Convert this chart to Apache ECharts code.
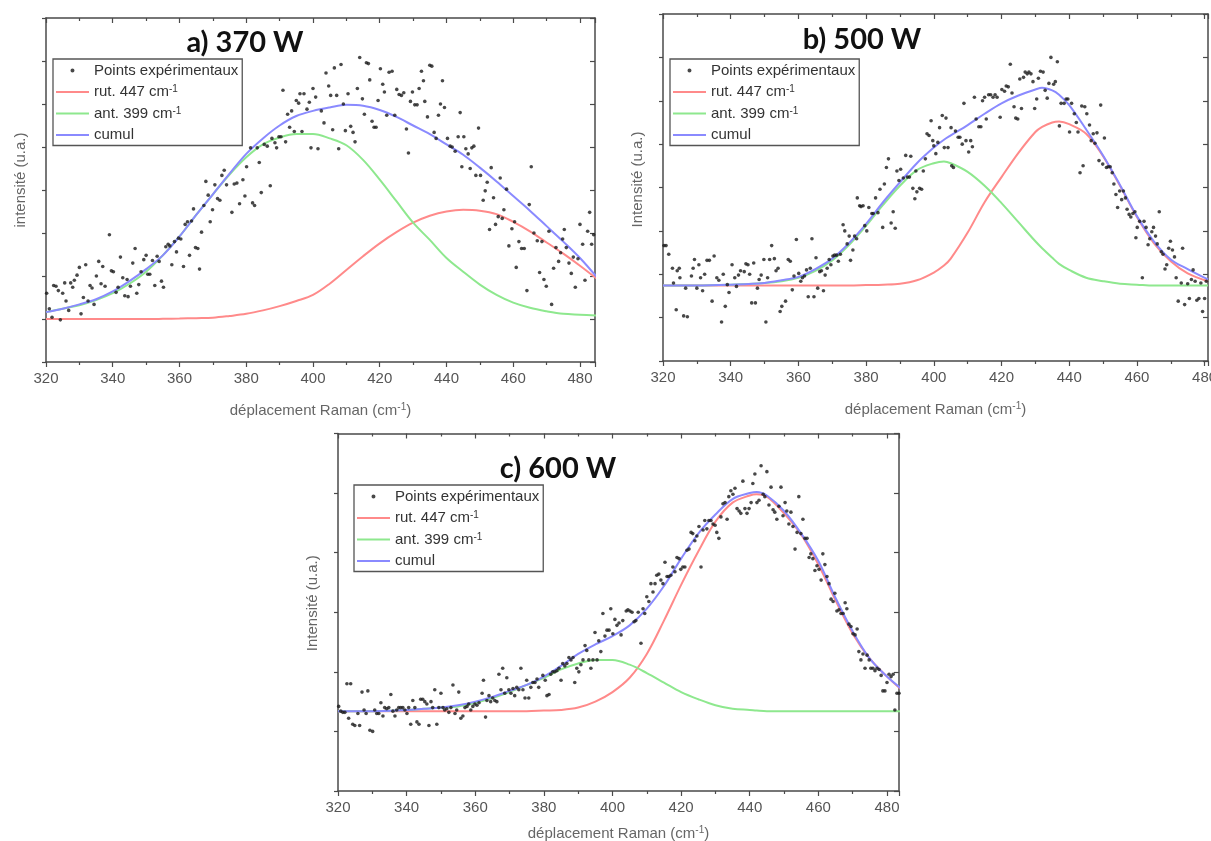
<!DOCTYPE html>
<html><head><meta charset="utf-8">
<script src="https://cdn.jsdelivr.net/npm/echarts@6/dist/echarts.min.js"></script>
<style>html,body{margin:0;padding:0;background:#fff}#c{width:1211px;height:841px}</style>
</head><body><div id="c"></div>
<script>
// ---------- labels ----------
const SERIES_NAMES = ['Points expérimentaux', 'rut. 447 cm-1', 'ant. 399 cm-1', 'cumul'];
const TITLES = ['a) 370 W', 'b) 500 W', 'c) 600 W'];
const Y_NAMES = ['intensité (u.a.)', 'Intensité (u.a.)', 'Intensité (u.a.)'];
const X_NAME = 'déplacement Raman (cm-1)';
const X_MIN = 320;
const X_MAX = [484.5, 481, 483.5];
const Y_MIN = -0.5;
const Y_MAX = [3.5, 3.5, 2.5];

// ---------- panel a) 370 W ----------
const curveXA = [320,325,330,335,340,345,350,355,360,365,370,375,380,385,390,395,400,405,410,415,420,425,430,435,440,445,450,455,460,465,470,475,480,485];
const rutA   = [0,0,0,0,0,0,0,0.002,0.005,0.01,0.015,0.035,0.06,0.10,0.15,0.21,0.28,0.41,0.57,0.73,0.88,1.01,1.12,1.20,1.25,1.27,1.26,1.22,1.13,1.02,0.89,0.76,0.62,0.47];
const antA   = [0.08,0.12,0.16,0.22,0.30,0.41,0.55,0.74,0.96,1.21,1.45,1.68,1.88,2.03,2.11,2.15,2.15,2.10,2.02,1.85,1.62,1.37,1.12,0.92,0.71,0.55,0.40,0.28,0.19,0.13,0.09,0.06,0.05,0.04];
const cumulA = [0.08,0.12,0.17,0.23,0.32,0.44,0.58,0.74,0.96,1.21,1.45,1.69,1.92,2.10,2.25,2.36,2.42,2.46,2.49,2.48,2.43,2.35,2.25,2.15,2.03,1.91,1.76,1.60,1.43,1.26,1.08,0.90,0.71,0.49];
const pointsA = [[320.2,0.30],[321,0.12],[321.8,0.02],[322.3,0.39],[323,0.38],[323.7,0.33],[324.3,-0.01],[325,0.30],[325.6,0.42],[326,0.21],[326.8,0.10],[327.4,0.42],[328,0.37],[328.5,0.45],[329.3,0.51],[330,0.60],[330.5,0.06],[331.2,0.25],[331.9,0.63],[332.6,0.21],[333.2,0.39],[333.8,0.36],[334.4,0.17],[335.1,0.50],[335.8,0.67],[336.5,0.41],[337,0.61],[337.7,0.38],[339,0.98],[339.6,0.56],[340.2,0.55],[341,0.31],[341.6,0.37],[342.3,0.72],[343,0.48],[343.6,0.27],[344.3,0.46],[344.6,0.26],[345.3,0.38],[346,0.65],[346.7,0.82],[347.2,0.30],[347.8,0.40],[348.5,0.55],[349.3,0.69],[350,0.74],[350.5,0.52],[351.1,0.52],[351.9,0.68],[352.6,0.39],[353.3,0.73],[353.9,0.67],[354.6,0.44],[355.2,0.37],[355.9,0.84],[356.6,0.87],[357.1,0.85],[357.7,0.63],[358.5,0.90],[359.1,0.78],[359.7,0.94],[360.4,0.93],[361.2,0.61],[361.7,1.10],[362.4,1.13],[363,0.74],[363.6,1.14],[364.2,1.28],[364.8,0.83],[365.5,0.82],[366,0.58],[366.6,1.01],[367.3,1.32],[367.9,1.60],[368.6,1.44],[369.2,1.13],[369.9,1.27],[370.6,1.56],[371.4,1.40],[372.1,1.38],[372.7,1.67],[373.4,1.73],[374.1,1.56],[375.7,1.24],[376.4,1.57],[377.2,1.58],[378,1.34],[379,1.62],[379.6,1.43],[380.1,1.77],[381.3,1.99],[381.9,1.35],[382.5,1.32],[383.3,1.99],[383.9,1.82],[384.5,1.47],[385.4,2.03],[386.3,2.01],[387.2,1.55],[387.7,2.10],[388.6,2.05],[389.1,1.99],[389.8,2.12],[390.4,2.12],[391,2.66],[391.8,2.06],[392.4,2.38],[393,2.23],[393.6,2.42],[394.4,2.18],[395,2.54],[395.7,2.51],[396.1,2.62],[396.7,2.18],[397.3,2.62],[398.2,2.44],[398.9,2.52],[399.4,1.99],[400,2.68],[400.8,2.58],[401.5,1.98],[402.5,2.42],[403.3,2.28],[403.9,2.86],[404.7,2.71],[405.3,2.60],[405.9,2.20],[406.4,2.92],[407.1,2.60],[407.7,1.98],[408.4,2.96],[409.1,2.50],[409.7,2.19],[410.5,2.62],[411.3,2.24],[412,2.17],[412.6,2.06],[413.3,2.68],[414,3.04],[414.8,2.56],[415.4,2.38],[416,2.98],[416.6,2.97],[417,2.78],[417.7,2.30],[418.3,2.23],[418.9,2.23],[419.5,2.54],[420.2,2.91],[420.9,2.73],[421.4,2.64],[422.1,2.37],[422.8,2.87],[423.7,2.88],[424.5,2.37],[425.1,2.67],[425.8,2.61],[426.5,2.60],[427.2,2.63],[428,2.21],[428.6,1.93],[429.2,2.53],[429.8,2.64],[430.5,2.49],[431.2,2.49],[431.8,2.68],[432.5,2.88],[433.1,2.77],[433.5,2.53],[434.3,2.35],[435,2.95],[435.6,2.94],[436.3,2.17],[436.9,2.10],[437.6,2.37],[438.2,2.50],[438.8,2.77],[439.4,2.46],[440.3,2.10],[441.1,2.01],[441.7,2.00],[442.6,1.95],[443.5,2.12],[444.1,2.40],[444.6,1.77],[445.2,2.12],[445.8,1.98],[446.5,1.92],[447.1,1.75],[447.6,1.99],[448.2,2.01],[448.8,1.67],[449.6,2.22],[450.2,1.67],[451,1.38],[451.6,1.49],[452.2,1.59],[452.9,1.04],[453.4,1.76],[454.1,1.41],[454.7,1.10],[455.5,1.19],[456.1,1.64],[456.7,1.17],[457.2,1.27],[458,1.51],[458.7,0.85],[459.6,1.05],[460.4,1.13],[460.9,0.60],[461.7,0.90],[462.5,0.82],[463.3,0.82],[464.1,0.33],[464.8,1.33],[465.4,1.77],[466.2,1.00],[467.2,0.91],[467.9,0.54],[468.6,0.90],[469.2,0.46],[469.9,0.38],[470.7,1.02],[471.5,0.17],[472.1,0.59],[472.8,0.83],[473.6,0.67],[474.2,0.77],[474.8,0.93],[475.3,1.04],[475.9,0.83],[476.7,0.65],[477.4,0.53],[478,0.72],[478.6,0.37],[479.4,0.70],[480,1.10],[480.8,0.87],[481.5,0.45],[482.3,1.02],[482.9,1.24],[483.5,0.87],[484.1,0.98]];

// ---------- panel b) 500 W ----------
const curveXB = [320,330,340,350,355,360,365,370,375,380,385,390,395,400,403,405,410,415,420,425,430,432,435,437,440,445,450,455,460,465,470,475,481];
const rutB   = [0.37,0.37,0.37,0.37,0.37,0.37,0.37,0.37,0.37,0.375,0.38,0.39,0.43,0.52,0.60,0.68,0.98,1.33,1.62,1.90,2.14,2.20,2.25,2.26,2.23,2.12,1.86,1.52,1.16,0.86,0.65,0.51,0.42];
const antB   = [0.37,0.37,0.38,0.40,0.42,0.46,0.54,0.66,0.84,1.06,1.30,1.52,1.70,1.78,1.80,1.78,1.68,1.52,1.32,1.10,0.88,0.80,0.69,0.62,0.55,0.46,0.42,0.39,0.38,0.37,0.37,0.37,0.37];
const cumulB = [0.37,0.37,0.38,0.40,0.43,0.47,0.56,0.68,0.86,1.08,1.33,1.56,1.78,1.96,2.05,2.10,2.22,2.35,2.47,2.56,2.63,2.65,2.62,2.57,2.45,2.17,1.87,1.53,1.17,0.88,0.67,0.56,0.44];
const pointsB = [[320.3,0.83],[320.9,0.83],[321.7,0.73],[322.8,0.57],[323.1,0.40],[323.9,0.09],[324.2,0.54],[324.8,0.57],[325,0.46],[326.1,0.02],[326.7,0.34],[327.2,0.01],[328.4,0.48],[328.9,0.57],[329.3,0.67],[330,0.34],[330.6,0.61],[331.1,0.46],[331.7,0.31],[332.3,0.50],[333,0.66],[333.7,0.66],[334.5,0.19],[335.1,0.71],[335.9,0.46],[336.5,0.43],[337.3,-0.05],[337.8,0.50],[338.4,0.13],[339,0.38],[339.5,0.29],[340.4,0.61],[341.2,0.46],[341.7,0.36],[342.3,0.49],[342.9,0.54],[344,0.53],[344.5,0.62],[345.1,0.61],[345.6,0.50],[346.2,0.17],[346.8,0.63],[347.3,0.17],[347.9,0.34],[348.4,0.44],[349,0.49],[349.8,0.67],[350.4,-0.05],[350.9,0.46],[351.5,0.67],[352.1,0.83],[352.9,0.68],[353.4,0.54],[354,0.57],[354.6,0.07],[355.1,0.13],[356.2,0.19],[357,0.67],[357.6,0.65],[358.2,0.32],[358.7,0.48],[359.4,0.90],[360.1,0.51],[360.7,0.42],[361.2,0.46],[361.8,0.48],[362.4,0.55],[362.9,0.24],[363.5,0.57],[364,0.91],[364.6,0.24],[365.2,0.69],[365.7,0.34],[366.3,0.53],[366.8,0.54],[367.4,0.31],[367.9,0.49],[368.5,0.57],[369.1,0.67],[369.6,0.61],[370.2,0.71],[370.7,0.72],[371.3,0.72],[371.8,0.65],[372.4,0.73],[373.2,1.07],[373.7,1.00],[374.4,0.85],[375,0.94],[375.4,0.66],[376.1,0.78],[376.6,0.94],[377.2,0.91],[377.4,1.38],[378.1,1.29],[378.5,1.28],[379.1,1.29],[379.6,1.06],[380.2,1.00],[380.8,1.27],[381.7,1.20],[382.1,1.20],[382.8,1.38],[383.5,1.21],[384.1,1.48],[384.9,1.04],[385.4,1.54],[386,1.73],[386.6,1.83],[387.4,1.09],[388,1.22],[388.6,1.03],[389.1,1.69],[389.7,1.58],[390.2,1.71],[391,1.61],[391.7,1.87],[392.2,1.62],[392.8,1.62],[393.2,1.86],[393.8,1.49],[394.4,1.37],[394.7,1.69],[395,1.45],[395.8,1.49],[396.4,1.48],[396.9,1.69],[397.5,1.83],[398,2.12],[398.6,2.10],[399.2,2.27],[399.7,2.04],[400,1.98],[400.6,1.89],[401.2,2.02],[401.7,2.19],[402.5,2.33],[403.1,1.96],[403.6,2.30],[404.2,1.96],[405.1,2.19],[405.3,1.75],[405.8,1.73],[406.4,2.15],[407.2,2.08],[407.7,2.08],[408.4,2.00],[408.9,2.47],[409.5,2.04],[410.3,1.91],[410.9,2.04],[411.4,1.97],[412,2.54],[412.5,2.29],[413.3,2.20],[413.9,2.20],[414.4,2.50],[415,2.54],[415.5,2.29],[416.2,2.57],[416.8,2.57],[417.5,2.54],[418.1,2.57],[418.7,2.54],[419.6,2.31],[420.1,2.63],[420.9,2.61],[421.4,2.67],[422,2.66],[422.6,2.92],[423.1,2.59],[423.7,2.43],[424.2,2.30],[424.8,2.29],[425.4,2.75],[425.9,2.41],[426.5,2.77],[427,2.83],[427.6,2.81],[428.1,2.83],[428.7,2.81],[429.3,2.72],[429.8,2.41],[430.4,2.52],[430.9,2.76],[431.5,2.84],[432.3,2.83],[432.9,2.62],[433.5,2.53],[434,2.70],[434.6,3.00],[435.4,2.69],[435.9,2.72],[436.5,2.95],[437.1,2.21],[437.6,2.47],[438.5,2.47],[439.1,2.52],[439.6,2.52],[440.1,2.14],[440.7,2.47],[441.5,2.35],[442.1,2.25],[442.6,2.14],[443.2,1.67],[443.7,2.44],[444.1,1.75],[444.6,2.43],[445.2,2.35],[446,2.22],[446.5,2.04],[447.1,2.12],[447.6,2.01],[448.2,2.13],[448.8,1.81],[449.3,2.45],[449.9,1.77],[450.4,2.07],[451,1.73],[451.5,1.74],[452.1,1.74],[452.7,1.67],[453.2,1.54],[453.8,1.42],[454.3,1.27],[454.9,1.46],[455.5,1.36],[456,1.46],[456.6,1.38],[457.1,1.25],[457.7,1.19],[458.2,1.16],[458.8,1.20],[459.4,1.22],[459.7,0.92],[460.1,1.04],[460.8,1.11],[461.6,0.46],[462.1,1.11],[462.7,1.04],[463.3,0.84],[463.8,0.91],[464.4,0.99],[464.9,1.04],[465.5,0.94],[466,0.85],[466.6,1.22],[467.2,0.76],[467.7,0.73],[468.3,0.56],[468.8,0.61],[469.4,0.80],[469.9,0.88],[470.5,0.78],[471.1,0.70],[471.6,0.46],[472.2,0.19],[473.1,0.40],[473.5,0.80],[474.1,0.15],[475,0.39],[475.5,0.22],[476.1,0.44],[476.6,0.55],[477.2,0.42],[477.7,0.20],[478.3,0.22],[478.9,0.40],[479.4,0.07],[480,0.22],[480.5,0.42]];

// ---------- panel c) 600 W ----------
const curveXC = [320,330,340,345,350,355,360,365,370,375,380,385,390,395,400,405,410,415,420,425,430,435,440,442,445,450,455,460,465,470,475,480,485];
const rutC   = [0.17,0.17,0.17,0.17,0.17,0.17,0.17,0.17,0.17,0.17,0.175,0.18,0.20,0.25,0.33,0.45,0.65,0.93,1.23,1.51,1.76,1.92,1.98,1.99,1.97,1.83,1.65,1.40,1.10,0.82,0.61,0.46,0.33];
const antC   = [0.17,0.17,0.18,0.19,0.20,0.21,0.24,0.28,0.33,0.39,0.45,0.52,0.57,0.60,0.60,0.56,0.49,0.41,0.33,0.27,0.22,0.19,0.18,0.175,0.17,0.17,0.17,0.17,0.17,0.17,0.17,0.17,0.17];
const cumulC = [0.17,0.17,0.18,0.19,0.20,0.22,0.25,0.29,0.34,0.39,0.46,0.55,0.65,0.73,0.80,0.89,1.03,1.22,1.45,1.66,1.82,1.95,2.00,2.01,1.98,1.85,1.66,1.43,1.12,0.84,0.61,0.46,0.34];
const pointsC = [[320.2,0.21],[320.8,0.17],[321.4,0.16],[322,0.16],[322.6,0.40],[323.1,0.11],[323.7,0.40],[324.3,0.06],[324.9,0.05],[325.8,0.15],[326.3,0.05],[327,0.33],[327.6,0.18],[328.2,0.15],[328.7,0.34],[329.3,0.01],[330.1,0.00],[330.7,0.18],[331.3,0.15],[331.9,0.15],[332.5,0.24],[333.1,0.13],[333.6,0.20],[334.2,0.19],[334.8,0.20],[335.4,0.31],[336,0.17],[336.6,0.13],[337.1,0.18],[337.7,0.20],[338.3,0.20],[338.9,0.20],[339.5,0.18],[340.1,0.15],[340.6,0.20],[341.2,0.06],[341.8,0.26],[342.4,0.20],[343,0.08],[343.6,0.06],[344.1,0.27],[344.7,0.27],[345.3,0.25],[345.9,0.23],[346.5,0.05],[347.1,0.25],[347.6,0.20],[348.2,0.35],[348.8,0.06],[349.4,0.20],[350,0.32],[350.6,0.20],[351.1,0.18],[351.7,0.19],[352.3,0.16],[352.9,0.20],[353.5,0.39],[354.1,0.15],[354.6,0.18],[355.2,0.33],[355.8,0.11],[356.4,0.13],[357,0.20],[357.6,0.21],[358.1,0.23],[358.7,0.18],[359.3,0.21],[359.9,0.23],[360.5,0.22],[361.1,0.24],[362,0.32],[362.4,0.43],[363,0.12],[363.4,0.26],[364,0.30],[364.5,0.25],[365.1,0.28],[365.7,0.26],[366.3,0.25],[366.9,0.48],[367.5,0.35],[368,0.53],[368.6,0.32],[369.2,0.45],[369.8,0.35],[370.4,0.32],[371,0.36],[371.5,0.30],[372.1,0.37],[372.7,0.35],[373.3,0.53],[373.9,0.35],[374.5,0.28],[375,0.43],[375.6,0.28],[376.2,0.37],[376.8,0.41],[377.4,0.41],[378,0.44],[378.5,0.37],[379.7,0.47],[380.4,0.43],[380.9,0.30],[381.5,0.31],[382,0.48],[382.6,0.50],[383.2,0.50],[383.8,0.51],[384.4,0.53],[385,0.43],[385.5,0.57],[386.1,0.55],[386.7,0.57],[387.3,0.62],[387.9,0.60],[388.5,0.62],[389,0.41],[389.6,0.53],[390.2,0.50],[390.8,0.56],[391.4,0.60],[392,0.72],[392.5,0.68],[393.1,0.60],[393.7,0.53],[394.3,0.60],[394.9,0.83],[395.5,0.60],[396,0.76],[396.6,0.67],[397.2,0.99],[397.8,0.80],[398.4,0.85],[399,0.85],[399.5,1.03],[400.1,0.82],[400.7,0.94],[401.3,0.89],[401.9,0.91],[402.5,0.81],[403,0.93],[404,1.01],[404.5,1.02],[405.1,1.01],[405.7,1.00],[406.3,0.92],[406.8,0.93],[407.5,1.00],[408.3,0.74],[408.9,1.03],[409.4,0.99],[410,1.13],[410.6,1.09],[411.2,1.24],[411.8,1.17],[412.4,1.24],[412.9,1.31],[413.5,1.32],[414.1,1.27],[414.7,1.24],[415.3,1.42],[415.9,1.30],[416.4,1.30],[417,1.31],[417.6,1.38],[418.2,1.34],[418.8,1.46],[419.4,1.45],[419.9,1.36],[420.5,1.38],[421.1,1.38],[421.7,1.52],[422.3,1.53],[422.9,1.67],[423.4,1.66],[424,1.60],[424.6,1.64],[425.2,1.72],[425.8,1.38],[426.4,1.69],[426.9,1.77],[427.5,1.70],[428.1,1.77],[428.7,1.77],[429.3,1.74],[429.9,1.73],[430.4,1.67],[431,1.62],[431.6,1.80],[432.2,1.91],[432.8,1.92],[433.4,1.78],[433.9,1.97],[434.5,2.02],[435.1,1.99],[435.7,2.04],[436.3,1.87],[436.9,1.85],[437.4,1.83],[438,2.10],[438.6,1.87],[439.2,1.83],[439.8,1.87],[440.4,1.92],[440.9,2.08],[441.5,2.16],[442.1,1.92],[442.7,1.94],[443.3,2.23],[443.9,1.99],[444.4,1.97],[445,2.18],[445.6,1.90],[446.2,2.05],[446.8,1.86],[447.3,1.84],[447.9,1.78],[448.5,1.89],[449.1,2.05],[449.7,1.81],[450.3,1.92],[450.8,1.85],[451.4,1.74],[452,1.84],[452.6,1.72],[453.2,1.53],[453.8,1.67],[454.3,1.97],[454.9,1.66],[455.5,1.78],[456.1,1.62],[456.7,1.62],[457.3,1.46],[457.8,1.49],[458.4,1.45],[459,1.35],[459.6,1.39],[460.2,1.36],[460.8,1.27],[461.3,1.49],[461.9,1.40],[462.5,1.30],[463.1,1.24],[463.7,1.11],[464.3,1.09],[464.8,1.16],[465.4,1.01],[466,1.02],[466.6,0.99],[467.2,0.99],[467.8,1.08],[468.3,1.03],[468.9,0.90],[469.5,0.88],[470.1,0.82],[470.7,0.81],[471.3,0.86],[471.8,0.67],[472.4,0.60],[473,0.65],[473.6,0.53],[474.2,0.64],[474.8,0.60],[475.3,0.53],[475.9,0.53],[476.5,0.51],[477.1,0.53],[477.7,0.52],[478.3,0.47],[478.8,0.34],[479.4,0.34],[480,0.41],[480.6,0.48],[481.2,0.46],[481.8,0.48],[482.3,0.18],[482.9,0.32],[483.5,0.32]];

// ---------- chart construction ----------
const PANELS = [
  {x: curveXA, rut: rutA, ant: antA, cumul: cumulA, pts: pointsA},
  {x: curveXB, rut: rutB, ant: antB, cumul: cumulB, pts: pointsB},
  {x: curveXC, rut: rutC, ant: antC, cumul: cumulC, pts: pointsC}
];
// layout (pixels)
const GRIDS = [
  {left: 46, top: 18, width: 549, height: 344},
  {left: 663, top: 14, width: 545, height: 347},
  {left: 338, top: 433.5, width: 561, height: 357.5}
];
const LEGEND_POS = [{left: 53, top: 59}, {left: 670, top: 59}, {left: 354, top: 485}];
const TITLE_POS = [[245, 43], [862, 40], [558, 469]];
const YNAME_SHIFT = [20, 16, 18];
const XNAME_GAP = [40, 40, 34];

const FONT = '"Liberation Sans", Arial, sans-serif';
const AX = '#4a4a4a';
const COLORS = {rut: '#ff8a8a', ant: '#8ee88e', cumul: '#8a8aff', pts: '#1a1a1a'};
const LINE_ICON = 'path://M0,0H33V2H0Z';
const DOT_ICON = 'path://M0,5L33,5M16.5,3A2,2,0,1,1,16.49,3Z';
const zip = (xs, ys) => xs.map((x, i) => [x, ys[i]]);
const supFmt = s => s.replace('cm-1', 'cm{sup|-1}');

const grid = [], xAxis = [], yAxis = [], series = [], legend = [], graphic = [];
PANELS.forEach((p, i) => {
  grid.push(Object.assign({containLabel: false, outerBoundsMode: 'none'}, GRIDS[i]));
  const tickStyle = {color: AX, width: 1.2};
  // bottom x
  xAxis.push({
    type: 'value', gridIndex: i, position: 'bottom', min: X_MIN, max: X_MAX[i], interval: 20,
    axisLine: {show: true, onZero: false, lineStyle: {color: AX, width: 1.5}},
    axisTick: {show: true, inside: false, length: 5, lineStyle: tickStyle},
    minorTick: {show: true, splitNumber: 2, length: 3, lineStyle: tickStyle},
    splitLine: {show: false},
    axisLabel: {show: true, showMaxLabel: false, showMinLabel: true, hideOverlap: false, margin: 9, color: '#555', fontSize: 15, fontFamily: FONT},
    name: supFmt(X_NAME), nameLocation: 'middle', nameGap: XNAME_GAP[i],
    nameTextStyle: {color: '#666', fontSize: 15, fontFamily: FONT,
      rich: {sup: {fontSize: 10, color: '#666', fontFamily: FONT, verticalAlign: 'top', padding: [0, 0, 8, 0]}}}
  });
  // top x
  xAxis.push({
    type: 'value', gridIndex: i, position: 'top', min: X_MIN, max: X_MAX[i], interval: 20,
    axisLine: {show: true, onZero: false, lineStyle: {color: AX, width: 1.5}},
    axisTick: {show: true, inside: true, length: 5, lineStyle: tickStyle},
    minorTick: {show: true, splitNumber: 2, length: 3, lineStyle: tickStyle},
    splitLine: {show: false}, axisLabel: {show: false}
  });
  // left y
  yAxis.push({
    type: 'value', gridIndex: i, position: 'left', min: Y_MIN, max: Y_MAX[i], interval: 0.5,
    axisLine: {show: true, onZero: false, lineStyle: {color: AX, width: 1.5}},
    axisTick: {show: true, inside: false, length: 4, lineStyle: tickStyle},
    splitLine: {show: false}, axisLabel: {show: false},
    name: Y_NAMES[i], nameLocation: 'middle', nameGap: 18, nameRotate: 90,
    nameTextStyle: {color: '#666', fontSize: 15, fontFamily: FONT, padding: [0, 0, 0, YNAME_SHIFT[i]]}
  });
  // right y
  yAxis.push({
    type: 'value', gridIndex: i, position: 'right', min: Y_MIN, max: Y_MAX[i], interval: 0.5,
    axisLine: {show: true, onZero: false, lineStyle: {color: AX, width: 1.5}},
    axisTick: {show: true, inside: true, length: 5, lineStyle: tickStyle},
    splitLine: {show: false}, axisLabel: {show: false}
  });
  const xi = 2 * i, yi = 2 * i;
  const lineSeries = (name, data, color, z) => ({
    type: 'line', name, xAxisIndex: xi, yAxisIndex: yi, data: zip(p.x, data),
    smooth: 0.35, symbol: 'none', showSymbol: false, z,
    lineStyle: {color, width: 2}, itemStyle: {color}, silent: true, animation: false
  });
  series.push(lineSeries(SERIES_NAMES[1], p.rut, COLORS.rut, 2));
  series.push(lineSeries(SERIES_NAMES[2], p.ant, COLORS.ant, 3));
  series.push(lineSeries(SERIES_NAMES[3], p.cumul, COLORS.cumul, 4));
  series.push({
    type: 'scatter', name: SERIES_NAMES[0], xAxisIndex: xi, yAxisIndex: yi, data: p.pts,
    symbol: 'circle', symbolSize: 3.6, itemStyle: {color: COLORS.pts}, z: 5, silent: true, animation: false
  });
  legend.push({
    left: LEGEND_POS[i].left, top: LEGEND_POS[i].top, orient: 'vertical', selectedMode: false,
    padding: [4, 4, 3, 3], itemWidth: 33, itemHeight: 14, itemGap: 6.5,
    backgroundColor: '#fff', borderColor: '#555', borderWidth: 1.3, borderRadius: 0, z: 10,
    formatter: supFmt,
    textStyle: {color: '#333', fontSize: 15, fontFamily: FONT, lineHeight: 15,
      rich: {sup: {fontSize: 10, color: '#333', fontFamily: FONT, verticalAlign: 'top', padding: [0, 0, 8, 0]}}},
    data: [
      {name: SERIES_NAMES[0], icon: DOT_ICON, itemStyle: {color: COLORS.pts}},
      {name: SERIES_NAMES[1], icon: LINE_ICON, itemStyle: {color: COLORS.rut}},
      {name: SERIES_NAMES[2], icon: LINE_ICON, itemStyle: {color: COLORS.ant}},
      {name: SERIES_NAMES[3], icon: LINE_ICON, itemStyle: {color: COLORS.cumul}}
    ]
  });
  graphic.push({
    type: 'text', x: TITLE_POS[i][0], y: TITLE_POS[i][1], z: 20,
    style: {text: TITLES[i], fill: '#111', font: 'bold 29px Lato, "Open Sans", sans-serif', textAlign: 'center', textVerticalAlign: 'middle'}
  });
});

const chart = echarts.init(document.getElementById('c'), null, {renderer: 'canvas'});
chart.setOption({backgroundColor: '#fff', animation: false, grid, xAxis, yAxis, series, legend, graphic});
</script>
</body></html>
